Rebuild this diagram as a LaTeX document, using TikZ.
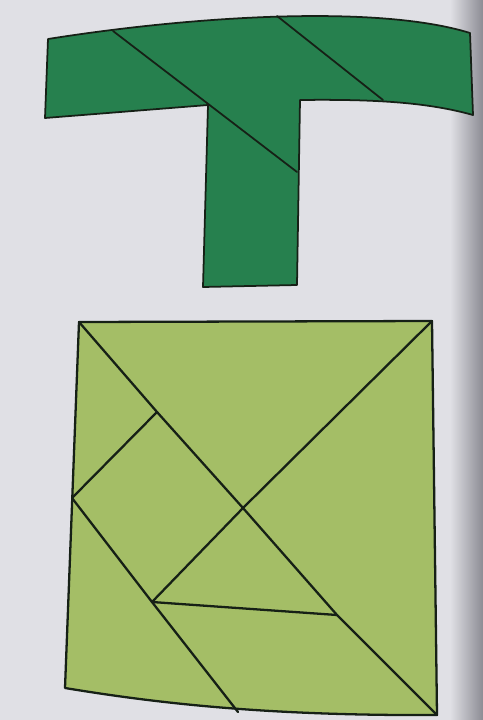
\documentclass[tikz,border=0pt]{standalone}
\usepackage{xcolor}
\usepackage{tikz}
\definecolor{corfundo}{RGB}{224,224,229}
\definecolor{cordobra}{RGB}{140,140,148}
\definecolor{corverde}{RGB}{38,128,78}
\definecolor{corlima}{RGB}{164,190,102}
\definecolor{cortraco}{RGB}{22,32,22}

\begin{document}
\begin{tikzpicture}[
  x=0.02cm, y=-0.02cm,
  peca/.style={draw=cortraco, line width=1pt, line join=round},
  corte/.style={draw=cortraco, line width=1pt, line cap=round},
  corteq/.style={draw=cortraco, line width=1.3pt, line cap=round, line join=round}
]
  % fundo da pagina
  \fill[corfundo] (0,0) rectangle (483,720);
  \shade[left color=corfundo, right color=cordobra] (450,0) rectangle (483,720);
  \useasboundingbox (0,0) rectangle (483,720);

  % figura em T
  \coordinate (tA) at (48,39);
  \coordinate (tB) at (470,33);
  \coordinate (tC) at (473,115);
  \coordinate (tD) at (300,100);
  \coordinate (tE) at (297,285);
  \coordinate (tF) at (203,287);
  \coordinate (tG) at (208,105);
  \coordinate (tH) at (45,118);
  \coordinate (tP) at (113,31);
  \coordinate (tQ) at (297,172);
  \coordinate (tR) at (277,16);
  \coordinate (tS) at (383,100);
  \path[peca, fill=corverde] (tA) .. controls (200,15) and (380,5) .. (tB) -- (tC)
    .. controls (430,103) and (380,99) .. (tD) -- (tE) -- (tF) -- (tG) -- (tH) -- cycle;
  \draw[corte] (tP) -- (tQ);
  \draw[corte] (tR) -- (tS);

  % quadrado do tangram
  \coordinate (qTL) at (79,322);
  \coordinate (qTR) at (432,321);
  \coordinate (qBR) at (437,715);
  \coordinate (qBL) at (65,688);
  \coordinate (qO) at (243,508);
  \coordinate (qK) at (157,412);
  \coordinate (qL) at (72,498);
  \coordinate (qF) at (152,602);
  \coordinate (qE) at (337,615);
  \coordinate (qM) at (238,712);
  \path[corteq, fill=corlima] (qTL) -- (qTR) -- (qBR)
    .. controls (260,716) and (150,702) .. (qBL) -- cycle;
  \draw[corteq] (qTL) -- (qK) -- (qO) -- (qE) -- (qBR);
  \draw[corteq] (qTR) -- (qO) -- (qF);
  \draw[corteq] (qK) -- (qL);
  \draw[corteq] (qL) -- (qF) -- (qM);
  \draw[corteq] (qF) -- (qE);
\end{tikzpicture}
\end{document}
